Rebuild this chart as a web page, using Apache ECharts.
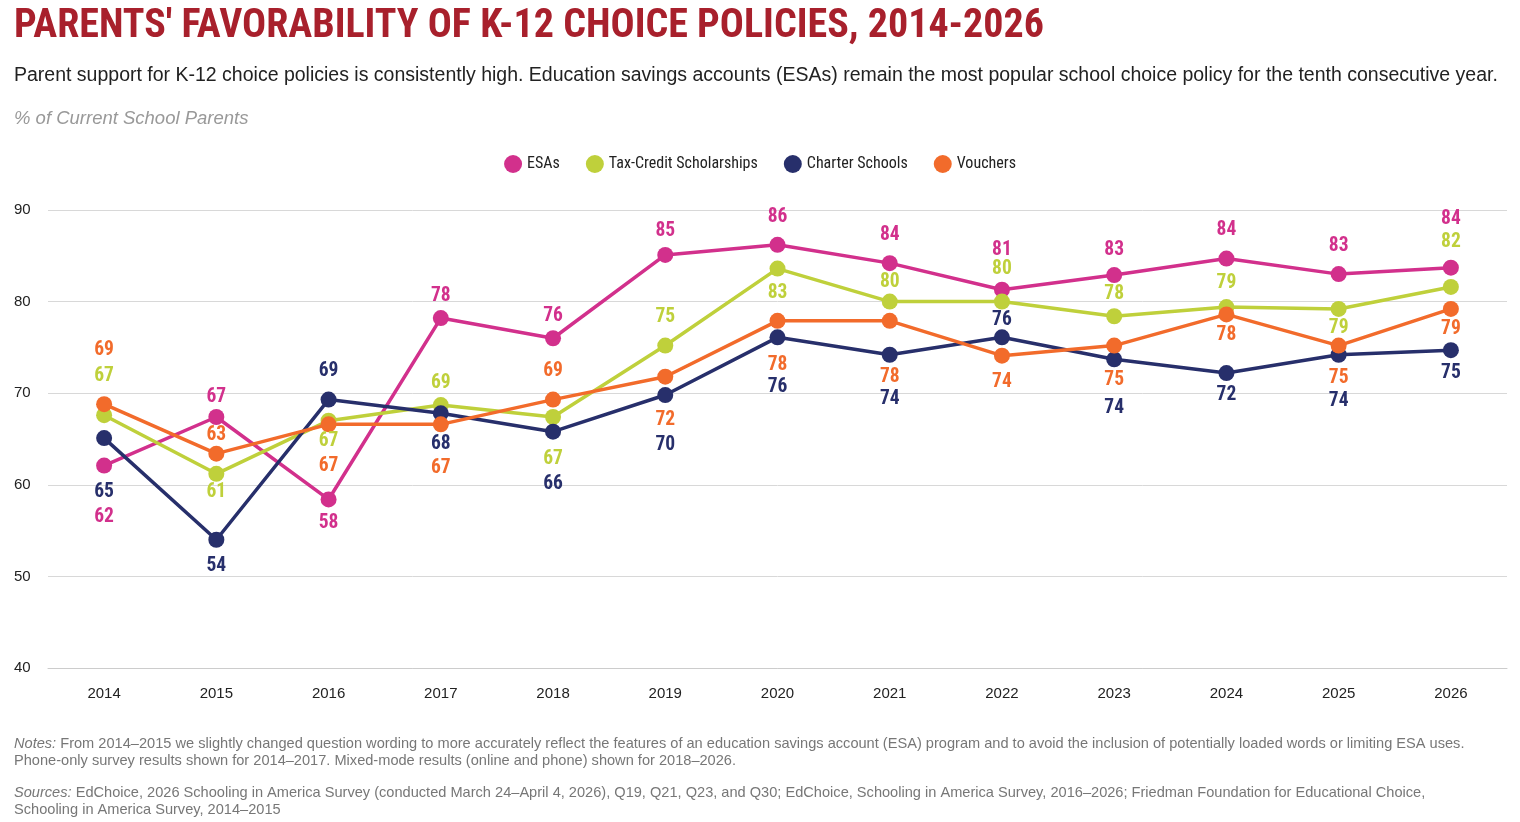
<!DOCTYPE html>
<html><head><meta charset="utf-8">
<script src="https://cdn.jsdelivr.net/npm/echarts@6/dist/echarts.min.js"></script>
<style>body{margin:0;background:#fff}#c{width:1520px;height:822px}</style>
</head><body><div id="c"></div>
<script>
const years=['2014','2015','2016','2017','2018','2019','2020','2021','2022','2023','2024','2025','2026'];
const esa=[62.1,67.4,58.4,78.2,76.0,85.1,86.2,84.2,81.3,82.9,84.7,83.0,83.7];
const esaLbl=[62,67,58,78,76,85,86,84,81,83,84,83,84];
const tax=[67.6,61.2,67.0,68.7,67.4,75.2,83.6,80.0,80.0,78.4,79.4,79.2,81.6];
const taxLbl=[67,61,67,69,67,75,83,80,80,78,79,79,82];
const charter=[65.1,54.0,69.3,67.8,65.8,69.8,76.1,74.2,76.1,73.7,72.2,74.2,74.7];
const charterLbl=[65,54,69,68,66,70,76,74,76,74,72,74,75];
const vouchers=[68.8,63.4,66.6,66.6,69.3,71.8,77.9,77.9,74.1,75.2,78.6,75.2,79.2];
const vouchersLbl=[69,63,67,67,69,72,78,78,74,75,78,75,79];
// label vertical offsets (layout)
const esaDy=[52,-20,24,-22,-22,-24,-28,-28,-40,-25,-28,-28,-49];
const taxDy=[-39,18,20,-22,42,-28,25,-19,-32,-22,-24,19,-45];
const charterDy=[54,26,-28,31,52,50,50,44,-17,49,22,46,23];
const vouchersDy=[-54,-19,42,44,-28,43,44,56,26,35,21,33,20];
const F='"Liberation Sans Narrow","Roboto Condensed","Liberation Sans",sans-serif';
const S='"Liberation Sans",sans-serif';
function mk(name,vals,lbls,dys,color){
  return {name,type:'line',symbol:'circle',symbolSize:16,color,
    lineStyle:{width:3.5,color},itemStyle:{color},
    data:vals.map((v,i)=>({value:v,label:{show:true,position:'inside',offset:[0,dys[i]],
      formatter:String(lbls[i]),color,fontSize:19.5,fontFamily:F,fontWeight:'bold'}}))};
}
const chart=echarts.init(document.getElementById('c'));
chart.setOption({
  animation:false,
  title:[
    {text:"PARENTS' FAVORABILITY OF K-12 CHOICE POLICIES, 2014-2026",left:9,top:2,
     textStyle:{fontFamily:F,fontWeight:'bold',fontSize:40,color:'#a8202c'}},
    {text:'Parent support for K-12 choice policies is consistently high. Education savings accounts (ESAs) remain the most popular school choice policy for the tenth consecutive year.',
     left:9,top:61,textStyle:{fontFamily:S,fontWeight:'normal',fontSize:19.5,color:'#222'}},
    {text:'% of Current School Parents',left:9,top:104,textStyle:{fontFamily:S,fontStyle:'italic',fontWeight:'normal',fontSize:18.5,color:'#999'}},
    {text:'{i|Notes:} From 2014–2015 we slightly changed question wording to more accurately reflect the features of an education savings account (ESA) program and to avoid the inclusion of potentially loaded words or limiting ESA uses.\nPhone-only survey results shown for 2014–2017. Mixed-mode results (online and phone) shown for 2018–2026.',
     left:9,top:730,textStyle:{fontFamily:S,fontWeight:'normal',fontSize:14.6,color:'#777',lineHeight:17,rich:{i:{fontStyle:'italic',fontSize:14.6,color:'#777'}}}},
    {text:'{i|Sources:} EdChoice, 2026 Schooling in America Survey (conducted March 24–April 4, 2026), Q19, Q21, Q23, and Q30; EdChoice, Schooling in America Survey, 2016–2026; Friedman Foundation for Educational Choice,\nSchooling in America Survey, 2014–2015',
     left:9,top:779,textStyle:{fontFamily:S,fontWeight:'normal',fontSize:14.6,color:'#777',lineHeight:17,rich:{i:{fontStyle:'italic',fontSize:14.6,color:'#777'}}}}
  ],
  legend:{top:150,left:'center',icon:'circle',itemWidth:18,itemHeight:18,itemGap:26,
    textStyle:{fontFamily:F,fontSize:16,color:'#222'}},
  grid:{left:48,right:13,top:210,bottom:154},
  xAxis:{type:'category',data:years,boundaryGap:true,
    axisLine:{lineStyle:{color:'#ccc'}},axisTick:{show:false},
    axisLabel:{fontFamily:S,fontSize:15,color:'#222',margin:18}},
  yAxis:{type:'value',min:40,max:90,interval:10,
    axisLabel:{fontFamily:S,fontSize:15,color:'#222',margin:14,verticalAlign:'middle',align:'left',padding:[0,0,4,-20]},
    splitLine:{lineStyle:{color:'#d8d8d8'}}},
  series:[
    mk('ESAs',esa,esaLbl,esaDy,'#d2308c'),
    mk('Tax-Credit Scholarships',tax,taxLbl,taxDy,'#bfd03b'),
    mk('Charter Schools',charter,charterLbl,charterDy,'#272f6b'),
    mk('Vouchers',vouchers,vouchersLbl,vouchersDy,'#f26b2b')
  ]
});
</script></body></html>
